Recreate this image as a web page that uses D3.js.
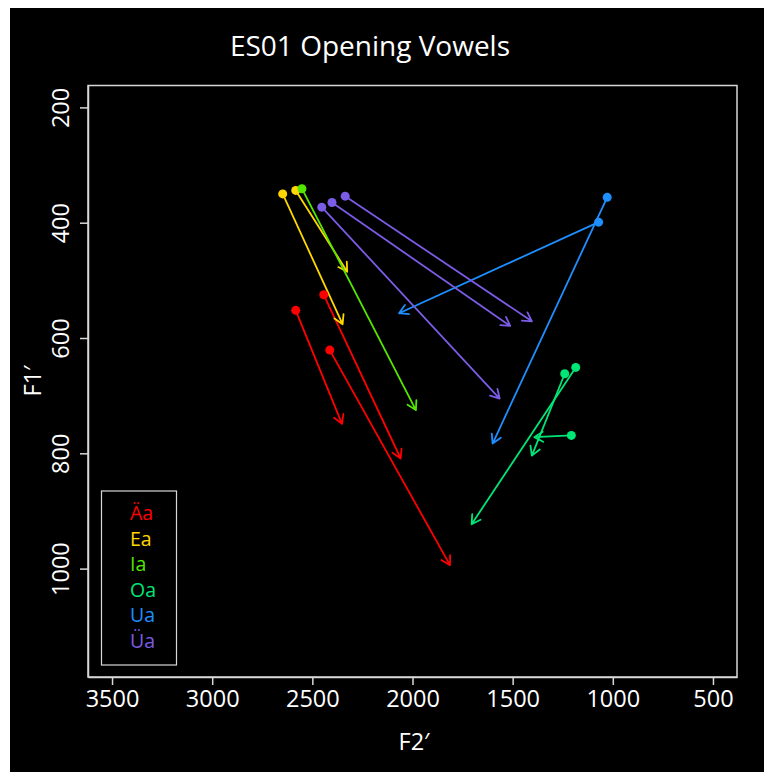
<!DOCTYPE html>
<html><head><meta charset="utf-8">
<script src="https://cdn.jsdelivr.net/npm/d3@7"></script>
<style>
html,body{margin:0;padding:0;background:#fff;}
svg{display:block;}
text{font-family:"Open Sans",sans-serif;fill:#fff;}
</style></head>
<body>
<script>
const vowels = ["Äa","Ea","Ia","Oa","Ua","Üa"];
const colors = ["#FF0000","#FFD700","#55E600","#00E676","#1E8FFF","#7B5CE6"];
// each token: vowel index, start F2, start F1, end F2, end F1
const groupIdx = [0,0,0,1,1,2,3,3,3,4,4,5,5,5];
const startF2 = [2583,2443,2413,2648,2583,2552,1185,1240,1207,1028,1071,2336,2402,2453];
const startF1 = [552,525,621,350,344,341,651,662,769,356,399,354,365,373];
const endF2   = [2352,2059,1813,2349,2326,1983,1705,1404,1392,1600,2067,1404,1512,1565];
const endF1   = [749,809,994,576,485,725,923,804,772,783,557,571,579,705];
const xTicks = [3500,3000,2500,2000,1500,1000,500];
const yTicks = [200,400,600,800,1000];
const xLim = [3500,500], yLim = [200,1150];

const W=764,H=772;
const svg=d3.select("body").append("svg").attr("width",W).attr("height",H);
svg.append("rect").attr("x",10).attr("y",8).attr("width",W-10).attr("height",H-8).attr("fill","#000");

const ext = (a,b)=>{const d=(b-a)*0.04;return [a-d,b+d];};
const x=d3.scaleLinear().domain(ext(xLim[0],xLim[1])).range([88,737]);
const y=d3.scaleLinear().domain(ext(yLim[0],yLim[1])).range([85.5,677]);
const axisCol="#d8d8d8";

svg.append("rect").attr("x",88).attr("y",85.5).attr("width",649).attr("height",591.5)
  .attr("fill","none").attr("stroke",axisCol).attr("stroke-width",1.5);

// x axis
const gx=svg.append("g").attr("transform","translate(0,677)")
  .call(d3.axisBottom(x).tickValues(xTicks).tickSizeInner(8).tickSizeOuter(0).tickPadding(5).tickFormat(d3.format("d")));
gx.select(".domain").attr("stroke",axisCol).attr("stroke-width",1.5);
gx.selectAll(".tick line").attr("stroke",axisCol).attr("stroke-width",1.5);
gx.selectAll(".tick text").attr("fill","#fff").style("font-size","23.5px").style("font-family","Open Sans");

// y axis
const gy=svg.append("g").attr("transform","translate(88,0)")
  .call(d3.axisLeft(y).tickValues(yTicks).tickSizeInner(8).tickSizeOuter(0).tickPadding(6).tickFormat(d3.format("d")));
gy.select(".domain").attr("stroke",axisCol).attr("stroke-width",1.5);
gy.selectAll(".tick line").attr("stroke",axisCol).attr("stroke-width",1.5);
gy.selectAll(".tick text").attr("fill","#fff").style("font-size","23.5px").style("font-family","Open Sans")
  .attr("transform","rotate(-90)").attr("x",0).attr("y",-19).attr("text-anchor","middle").attr("dy","0");

svg.append("text").attr("x",370).attr("y",56).attr("text-anchor","middle")
  .style("font-size","28px").text("ES01 Opening Vowels");
svg.append("text").attr("x",414).attr("y",750).attr("text-anchor","middle")
  .style("font-size","23.5px").text("F2′");
svg.append("text").attr("transform","translate(41,381) rotate(-90)").attr("text-anchor","middle")
  .style("font-size","23.5px").text("F1′");

// arrows
const plot=svg.append("g");
const headLen=10, headAng=Math.PI/6;
startF2.forEach((_,i)=>{
  const c=colors[groupIdx[i]];
  const x0=x(startF2[i]), y0=y(startF1[i]), x1=x(endF2[i]), y1=y(endF1[i]);
  const a=Math.atan2(y1-y0,x1-x0);
  const p=d3.path();
  p.moveTo(x0,y0); p.lineTo(x1,y1);
  p.moveTo(x1-headLen*Math.cos(a-headAng), y1-headLen*Math.sin(a-headAng));
  p.lineTo(x1,y1);
  p.lineTo(x1-headLen*Math.cos(a+headAng), y1-headLen*Math.sin(a+headAng));
  plot.append("path").attr("d",p.toString()).attr("fill","none").attr("stroke",c)
    .attr("stroke-width",1.8).attr("stroke-linecap","round").attr("stroke-linejoin","round");
});
startF2.forEach((_,i)=>{
  plot.append("circle").attr("cx",x(startF2[i])).attr("cy",y(startF1[i])).attr("r",4.5)
    .attr("fill",colors[groupIdx[i]]);
});

// legend
svg.append("rect").attr("x",101.5).attr("y",491).attr("width",75).attr("height",174)
  .attr("fill","none").attr("stroke",axisCol).attr("stroke-width",1.2);
vowels.forEach((v,i)=>{
  svg.append("text").attr("x",130).attr("y",520+i*25.6).style("font-size","19.5px")
    .attr("fill",colors[i]).style("fill",colors[i]).text(v);
});
</script>
</body></html>
